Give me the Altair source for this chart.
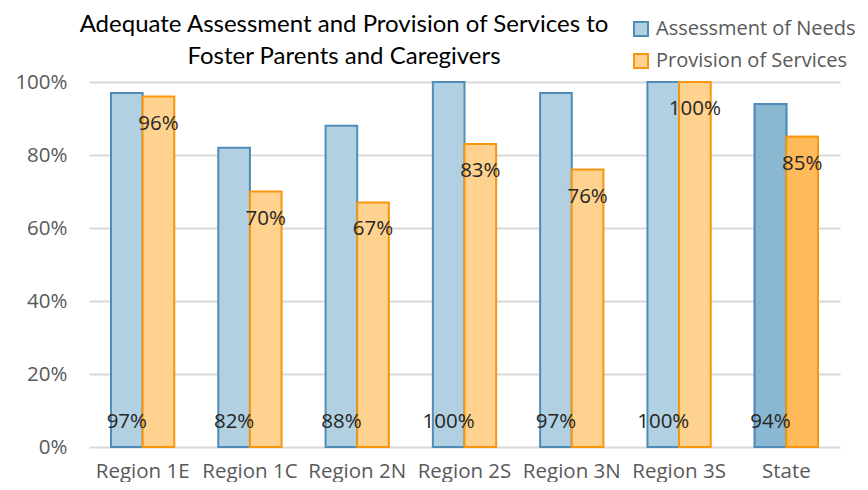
import altair as alt
import pandas as pd

categories = ["Region 1E", "Region 1C", "Region 2N", "Region 2S", "Region 3N", "Region 3S", "State"]
series_names = ["Assessment of Needs", "Provision of Services"]
assessment = [97, 82, 88, 100, 97, 100, 94]
provision = [96, 70, 67, 83, 76, 100, 85]
y_ticks = [0, 20, 40, 60, 80, 100]
title_lines = ["Adequate Assessment and Provision of Services to", "Foster Parents and Caregivers"]

rows = []
for c, a, p in zip(categories, assessment, provision):
    rows.append({"cat": c, "series": series_names[0], "value": a})
    rows.append({"cat": c, "series": series_names[1], "value": p})
df = pd.DataFrame(rows)

FILL = ["#B1D0E2", "#FFD28F"]
STROKE = ["#4F8DB8", "#F7960F"]
STATE_FILL_A = "#8AB8D3"
STATE_FILL_P = "#FFBA5A"
FONT = "Open Sans"
TFONT = "Lato"
FS = 20.5

x = alt.X("cat:N", sort=categories, title=None,
          scale=alt.Scale(paddingInner=0.41, paddingOuter=0.205),
          axis=alt.Axis(labelFont=FONT, labelFontSize=FS, labelColor="#595959",
                        ticks=False, domain=False, labelPadding=14, labelAngle=0))
y = alt.Y("value:Q", title=None, scale=alt.Scale(domain=[0, 100], nice=False),
          axis=alt.Axis(values=y_ticks, labelExpr="datum.value + '%'",
                        labelFont=FONT, labelFontSize=FS, labelColor="#595959",
                        ticks=False, domain=False, labelPadding=22,
                        grid=True, gridColor="#D9D9D9", gridWidth=2))
xo = alt.XOffset("series:N", sort=series_names, scale=alt.Scale(domain=series_names))

base = alt.Chart(df)

bars = base.mark_bar(strokeWidth=2).encode(
    x=x, y=y, xOffset=xo,
    fill=alt.Fill("series:N", scale=alt.Scale(domain=series_names, range=FILL),
                  legend=alt.Legend(title=None, orient="none", legendX=542, legendY=-63,
                                    symbolType="square", symbolSize=196,
                                    symbolStrokeWidth=2, labelFont=FONT,
                                    labelFontSize=20, labelColor="#595959",
                                    rowPadding=10, labelOffset=5, labelLimit=0)),
    stroke=alt.Stroke("series:N", scale=alt.Scale(domain=series_names, range=STROKE)),
)

state_bars = base.transform_filter(alt.datum.cat == "State").transform_calculate(
    sf=f"datum.series == '{series_names[0]}' ? '{STATE_FILL_A}' : '{STATE_FILL_P}'",
    sc=f"datum.series == '{series_names[0]}' ? '{STROKE[0]}' : '{STROKE[1]}'",
).mark_bar(strokeWidth=2).encode(
    x=x, y=y, xOffset=xo,
    fill=alt.Fill("sf:N", scale=None),
    stroke=alt.Stroke("sc:N", scale=None),
)

lab_a = base.transform_filter(alt.datum.series == series_names[0]).transform_calculate(
    lbl="datum.value + '%'", zero="0"
).mark_text(font=FONT, fontSize=FS, color="#262626", baseline="middle", dy=-25).encode(
    x=x, xOffset=xo, y=alt.Y("zero:Q"), text="lbl:N"
)

lab_p = base.transform_filter(alt.datum.series == series_names[1]).transform_calculate(
    lbl="datum.value + '%'"
).mark_text(font=FONT, fontSize=FS, color="#262626", baseline="middle", dy=27).encode(
    x=x, xOffset=xo, y="value:Q", text="lbl:N"
)

title1 = alt.Chart(pd.DataFrame({"t": [title_lines[0]]})).mark_text(
    font=TFONT, fontSize=24, color="#000000", baseline="middle", align="center"
).encode(x=alt.value(255), y=alt.value(-57), text="t:N")
title2 = alt.Chart(pd.DataFrame({"t": [title_lines[1]]})).mark_text(
    font=TFONT, fontSize=24, color="#000000", baseline="middle", align="center"
).encode(x=alt.value(255), y=alt.value(-25), text="t:N")

chart = alt.layer(bars, state_bars, lab_a, lab_p, title1, title2).properties(
    width=751, height=365,
    autosize=alt.AutoSizeParams(type="none"),
    padding={"left": 81, "top": 74, "right": 20, "bottom": 35},
).configure_view(stroke=None)

chart.save("out.html", embed_options={"renderer": "svg", "actions": False})
